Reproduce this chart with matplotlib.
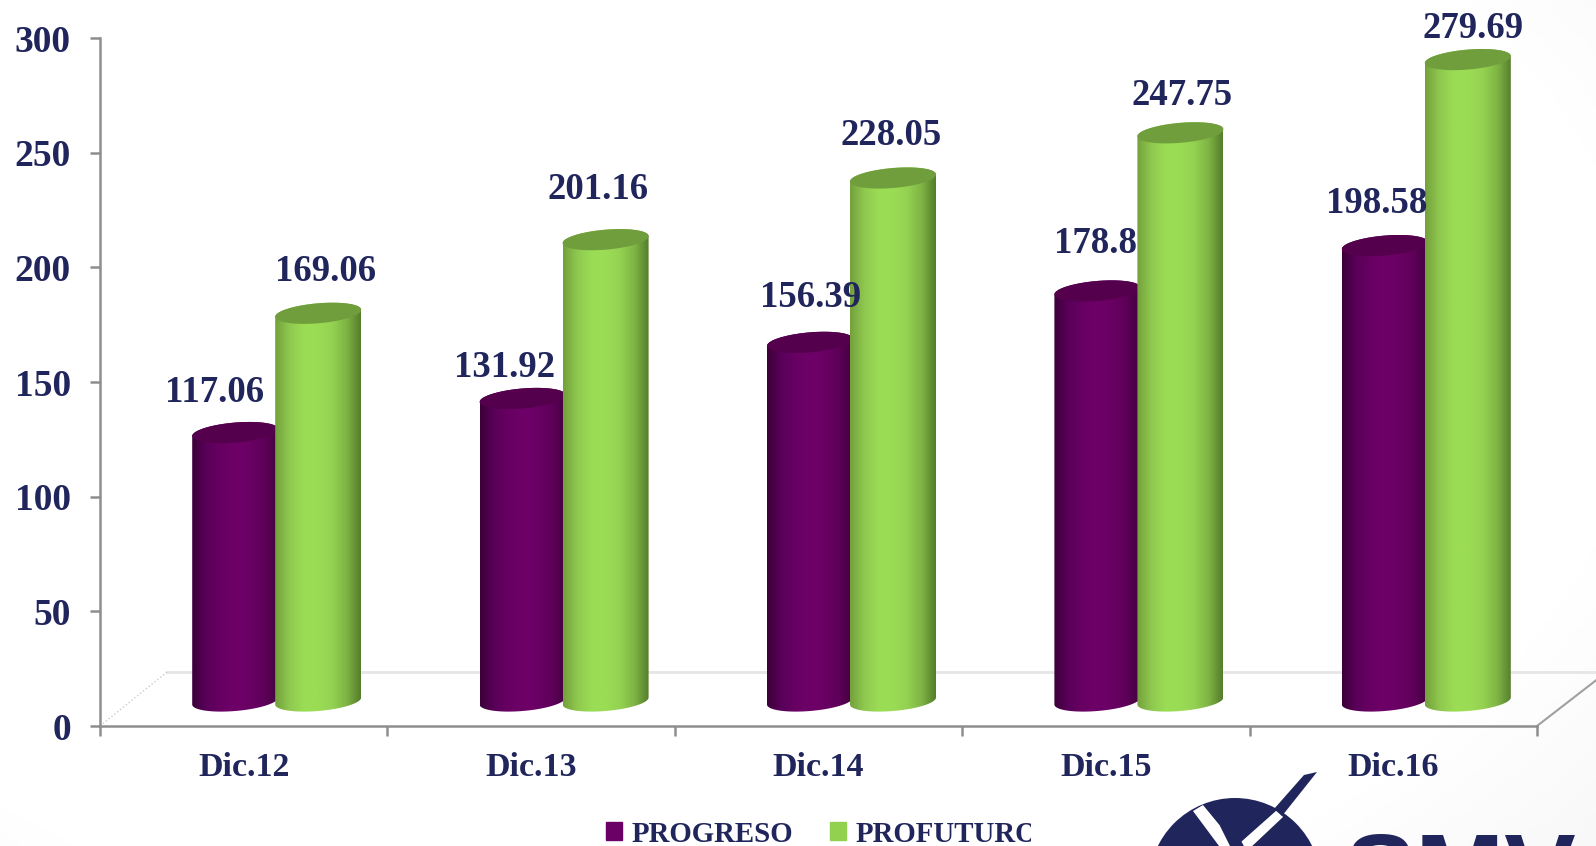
import matplotlib
matplotlib.use("Agg")
import matplotlib.pyplot as plt
import numpy as np
from matplotlib.colors import LinearSegmentedColormap
from matplotlib.patches import Patch, Polygon, Circle
from matplotlib.path import Path
from matplotlib.transforms import Bbox

W, H = 1596, 846

# data
categories = ["Dic.12", "Dic.13", "Dic.14", "Dic.15", "Dic.16"]
progreso = [117.06, 131.92, 156.39, 178.8, 198.58]
profuturo = [169.06, 201.16, 228.05, 247.75, 279.69]
progreso_labels = ["117.06", "131.92", "156.39", "178.8", "198.58"]
profuturo_labels = ["169.06", "201.16", "228.05", "247.75", "279.69"]
y_ticks = [0, 50, 100, 150, 200, 250, 300]

# label nudges in pixels from the top of each bar (x, y)
progreso_nudge = [(-21, 65), (-18, 56), (1, 70), (-2, 72), (-8, 67)]
profuturo_nudge = [(7, 67), (-8, 75), (-2, 68), (2, 62), (5, 56)]

NAVY = "#20255c"
GREY = "#8e8e8e"
plt.rcParams["font.family"] = ["Liberation Serif", "DejaVu Serif"]
plt.rcParams["font.weight"] = "bold"

fig = plt.figure(figsize=(W / 100, H / 100), dpi=100)

# full figure layer in pixels, for the background and the logo
bg = fig.add_axes([0, 0, 1, 1], zorder=0)
bg.set_xlim(0, W)
bg.set_ylim(H, 0)
bg.axis("off")
yy, xx = np.mgrid[0:1:200j, 0:1:400j]
r = np.hypot((xx - 0.42) / 0.62, (yy - 0.42) / 0.75)
bg.imshow(1 - 0.07 * np.clip(r - 0.95, 0, 0.6) / 0.6, cmap="gray", vmin=0, vmax=1,
          extent=(0, W, H, 0), aspect="auto")

# logo, cut off by the bottom edge like in the original
bg.add_patch(Circle((1235, 884), 86, color=NAVY, lw=0))
bg.add_patch(Polygon([[1193, 811], [1203, 805], [1240, 850], [1222, 850]], color="white", lw=0))
bg.add_patch(Polygon([[1232, 850], [1277, 810], [1283, 817], [1248, 850]], color="white", lw=0))
bg.add_patch(Polygon([[1220, 826], [1232, 824], [1246, 850], [1232, 850]], color=NAVY, lw=0))
bg.add_patch(Polygon([[1274, 809], [1304, 775], [1317, 772], [1282, 816]], color=NAVY, lw=0))
bg.text(1345, 909, "SMV", family="Liberation Sans", fontweight="bold", fontsize=77,
        color=NAVY, va="baseline", ha="left")

ax = fig.add_axes([100 / W, (H - 726) / H, (1537 - 100) / W, (726 - 38) / H], zorder=1)
ax.patch.set_alpha(0)
ax.set_xlim(0, 5)
ax.set_ylim(0, 300)

px_x = 5 / (1537 - 100)
px_y = 300 / (726 - 38)

# floor of the 3d box
ax.plot([67 * px_x, 5 + 62 * px_x], [54 * px_y, 54 * px_y], color="#e6e6e6", lw=2,
        clip_on=False, zorder=1)
ax.plot([0, 67 * px_x], [0, 54 * px_y], color="#cccccc", lw=1, ls=":", zorder=1)
ax.plot([5, 5 + 62 * px_x], [0, 48 * px_y], color="#a0a0a0", lw=1.5, clip_on=False, zorder=1)

purple_cmap = LinearSegmentedColormap.from_list(
    "purple", ["#3c0039", "#5a005a", "#680063", "#6e0068", "#6a0064", "#5e005a", "#45003f"])
green_cmap = LinearSegmentedColormap.from_list(
    "green", ["#74a13d", "#8fc94f", "#9bdc55", "#9bdc55", "#94d251", "#80b545", "#557e2c"])


def draw_cylinder(x_left, half_w, value, cmap, top_color, zorder):
    b = 10 * px_y
    tilt = 3.5 * px_y
    lift = 25 * px_y
    cx = x_left + half_w
    t_low = np.linspace(np.pi, 2 * np.pi, 50)
    t_up = np.linspace(0, np.pi, 50)

    # lower half of base ellipse, then upper half of top ellipse
    xs = np.r_[cx + half_w * np.cos(t_low), cx + half_w * np.cos(t_up)]
    ys = np.r_[lift + b * np.sin(t_low) + tilt * np.cos(t_low),
               value + lift + b * np.sin(t_up) + tilt * np.cos(t_up)]
    body = Path(np.c_[xs, ys])
    im = ax.imshow(np.linspace(0, 1, 120).reshape(1, -1), cmap=cmap, aspect="auto",
                   extent=(cx - half_w, cx + half_w, 0, value + lift + 2 * b),
                   interpolation="bilinear", zorder=zorder)
    im.set_clip_path(body, transform=ax.transData)

    t = np.linspace(0, 2 * np.pi, 100)
    ax.fill(cx + half_w * np.cos(t),
            value + lift + b * np.sin(t) + tilt * np.cos(t),
            color=top_color, lw=0, zorder=zorder + 0.1)
    return cx


for i in range(len(categories)):
    join = i + 0.5 + 31.5 * px_x
    cx1 = draw_cylinder(join - 83 * px_x, 43 * px_x, progreso[i], purple_cmap, "#54004c", 3)
    cx2 = draw_cylinder(join, 43 * px_x, profuturo[i], green_cmap, "#719e3d", 4)
    ax.annotate(progreso_labels[i], (cx1, progreso[i]), xytext=progreso_nudge[i],
                textcoords="offset pixels", ha="center", va="center", fontsize=26.5,
                color=NAVY, annotation_clip=False, zorder=6)
    ax.annotate(profuturo_labels[i], (cx2, profuturo[i]), xytext=profuturo_nudge[i],
                textcoords="offset pixels", ha="center", va="center", fontsize=26.5,
                color=NAVY, annotation_clip=False, zorder=6)

ax.set_xlim(0, 5)
ax.set_ylim(0, 300)

for side in ["top", "right"]:
    ax.spines[side].set_visible(False)
for side in ["left", "bottom"]:
    ax.spines[side].set_color(GREY)
    ax.spines[side].set_linewidth(1.8)

ax.set_yticks(y_ticks)
ax.tick_params(axis="y", length=7, width=1.8, color=GREY, pad=14, labelsize=27, labelcolor=NAVY)
ax.set_xticks(range(6))
ax.set_xticklabels([])
ax.set_xticks(np.arange(5) + 0.5, categories, minor=True)
ax.tick_params(axis="x", which="major", length=7, width=1.8, color=GREY)
ax.tick_params(axis="x", which="minor", length=0, pad=19, labelsize=24.5, labelcolor=NAVY)

handles = [Patch(color="#6b0066", label="PROGRESO"), Patch(color="#92d050", label="PROFUTURO")]
leg = ax.legend(handles=handles, ncol=2, frameon=False, loc="center left",
                bbox_to_anchor=(606 / W, 12 / H), bbox_transform=fig.transFigure,
                borderpad=0, borderaxespad=0, fontsize=20.8, handlelength=0.56,
                handleheight=0.56, handletextpad=0.31, columnspacing=1.3,
                labelcolor=NAVY)
# the second entry is cut off in the original
cut = Bbox([[0, 0], [1031, H]])
leg.get_texts()[1].set_clip_box(cut)
leg.get_texts()[1].set_clip_on(True)

fig.savefig("out.png", dpi=100)
